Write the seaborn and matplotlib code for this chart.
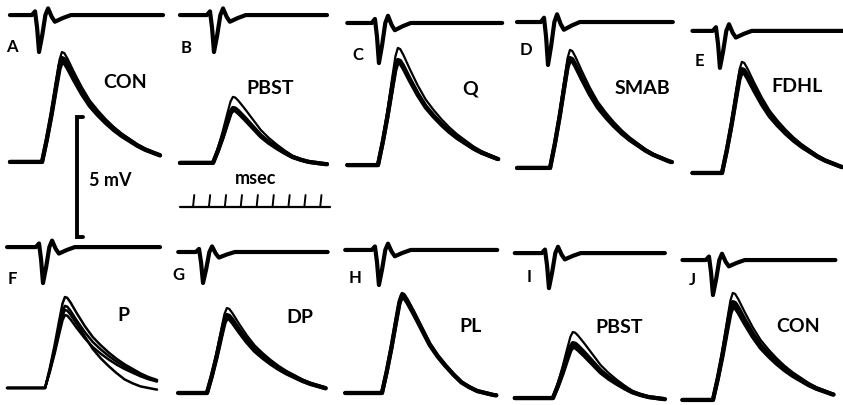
import numpy as np
import pandas as pd
import matplotlib
matplotlib.use("Agg")
import matplotlib.pyplot as plt
import seaborn as sns

# ---------------- data ----------------
panel_letters = ["A", "B", "C", "D", "E", "F", "G", "H", "I", "J"]
muscle_names = ["CON", "PBST", "Q", "SMAB", "FDHL", "P", "DP", "PL", "PBST", "CON"]

# normalised EPSP time course (ms after onset, fraction of peak)
shape_t_ms = [0.0, 0.3, 0.6, 0.9, 1.1, 1.25, 1.4, 1.6, 2.0, 2.5, 3.0, 3.5, 4.0, 4.5, 5.0, 5.5, 6.0, 6.5, 7.0, 7.5, 8.0]
shape_std = [0.0, 0.22, 0.47, 0.75, 0.93, 1.0, 0.99, 0.94, 0.82, 0.68, 0.56, 0.47, 0.39, 0.32, 0.26, 0.21, 0.16, 0.12, 0.09, 0.06, 0.04]
shape_fast = [0.0, 0.22, 0.47, 0.75, 0.93, 1.0, 0.99, 0.94, 0.82, 0.66, 0.50, 0.38, 0.28, 0.19, 0.11, 0.06, 0.02, 0.0, -0.02, -0.03, -0.04]

# normalised afferent volley (ms from negative peak, fraction of dip)
volley_t_ms = [-0.45, -0.25, -0.12, 0.0, 0.2, 0.4, 0.57, 0.8, 1.0, 1.5, 2.0]
volley_shape = [0.0, 0.1, -0.35, -1.0, -0.55, 0.0, 0.18, -0.05, -0.18, -0.08, 0.0]

epsp_onset_ms = [-0.06, 0.09, -0.14, 0.08, 0.29, 0.13, -0.29, 0.11, 0.26, -0.28]
epsp_baseline_mv = [1.69, 1.65, 1.56, 1.44, 1.23, 0.71, 0.50, 0.50, 0.29, 0.21]
sweep_peaks_mv = [
    [4.58, 4.33, 4.17],
    [2.75, 2.29, 2.21],
    [4.88, 4.38, 4.29],
    [4.92, 4.58, 4.50],
    [4.63, 4.33, 4.21],
    [3.79, 3.42, 3.25, 3.04],
    [3.54, 3.25, 3.13],
    [4.17, 4.08, 4.00],
    [2.75, 2.29, 2.13],
    [4.46, 4.08, 3.88],
]
sweep_shapes = [
    ["std", "std", "std"],
    ["fast", "fast", "fast"],
    ["std", "std", "std"],
    ["std", "std", "std"],
    ["std", "std", "std"],
    ["std", "std", "fast", "std"],
    ["std", "std", "std"],
    ["fast", "fast", "fast"],
    ["fast", "fast", "fast"],
    ["std", "std", "std"],
]
trace_start_ms = [-2.08, -1.99, -2.07, -2.0, -1.57, -2.26, -2.10, -2.20, -2.14, -2.20]
trace_end_ms = [7.36, 7.26, 7.42, 7.74, 7.86, 7.17, 7.17, 7.30, 7.30, 7.30]

volley_dip_ms = [-0.25, 0.15, -0.08, -0.05, 0.16, 0.0, -0.54, -0.08, 0.01, -0.28]
volley_base_mv = [7.81, 7.81, 7.48, 7.52, 7.15, 6.58, 6.375, 6.46, 6.33, 6.04]
volley_depth_mv = [1.54, 1.54, 1.67, 1.79, 1.54, 1.50, 1.29, 1.46, 1.46, 1.46]
volley_end_ms = [7.55, 7.26, 7.67, 7.80, 7.90, 7.36, 7.30, 7.36, 7.30, 7.42]

# label positions inside each panel (ms, mV)
letter_xy = [(-1.95, 6.48), (-1.61, 6.44), (-1.40, 6.15), (-1.43, 6.35), (-1.16, 5.90),
             (-1.95, 5.25), (-2.10, 5.40), (-1.60, 5.29), (-1.25, 5.33), (-1.60, 5.21)]
name_xy = [(5.16, 4.98), (3.67, 4.77), (5.65, 4.73), (5.86, 4.73), (5.00, 4.85),
           (5.03, 3.71), (5.56, 3.63), (5.71, 3.29), (4.42, 3.21), (5.07, 3.29)]

scale_mv = 5
time_ticks_ms = 9

# ---------------- figure ----------------
sns.set_theme(style="white")
plt.rcParams["font.family"] = ["Lato", "DejaVu Sans"]

fig, axes = plt.subplots(2, 5, figsize=(8.43, 4.05), dpi=100)
fig.subplots_adjust(left=0, right=1, top=1, bottom=0, wspace=0, hspace=0)
shapes = {"std": np.array(shape_std), "fast": np.array(shape_fast)}
st = np.array(shape_t_ms)

for i, ax in enumerate(axes.flat):
    ax.set_xlim(-43 / 15.9, (843 / 5 - 43) / 15.9)
    ax.set_ylim(0, 202.5 / 24)
    ax.axis("off")

    # volley
    vt = np.concatenate([[trace_start_ms[i]], volley_dip_ms[i] + np.array(volley_t_ms), [volley_end_ms[i]]])
    vv = np.concatenate([[0.0], np.array(volley_shape), [0.0]]) * volley_depth_mv[i] + volley_base_mv[i]
    dfv = pd.DataFrame({"t": vt, "v": vv})
    sns.lineplot(data=dfv, x="t", y="v", ax=ax, color="black", lw=3.0,
                 sort=False, estimator=None, legend=False, clip_on=False,
                 solid_capstyle="round", solid_joinstyle="round")

    # EPSP sweeps
    for k, (pk, shp) in enumerate(zip(sweep_peaks_mv[i], sweep_shapes[i])):
        t = epsp_onset_ms[i] + st
        v = shapes[shp] * pk
        keep = t < trace_end_ms[i]
        t_end = trace_end_ms[i]
        v_end = np.interp(t_end, t, v)
        tt = np.concatenate([[trace_start_ms[i]], t[keep], [t_end]])
        yy = np.concatenate([[0.0], v[keep], [v_end]]) + epsp_baseline_mv[i]
        df = pd.DataFrame({"t": tt, "v": yy})
        if i == 5:
            lw = 1.8
        else:
            lw = 1.6 if k == 0 else 3.0
        sns.lineplot(data=df, x="t", y="v", ax=ax, color="black", lw=lw,
                     sort=False, estimator=None, legend=False, clip_on=False,
                     solid_capstyle="round", solid_joinstyle="round")

    ax.text(*letter_xy[i], panel_letters[i], ha="center", va="center",
            fontsize=12, fontweight="bold", color="black")
    ax.text(*name_xy[i], muscle_names[i], ha="center", va="center",
            fontsize=14, fontweight="bold", color="black")

# voltage scale bar (panel A frame)
axA = axes[0, 0]
x_bar, y_top = 2.14, 3.56
axA.plot([x_bar + 0.35, x_bar, x_bar, x_bar + 0.35], [y_top, y_top, y_top - scale_mv, y_top - scale_mv],
         color="black", lw=2.8, clip_on=False, solid_joinstyle="miter")
axA.text(4.2, 0.9, f"{scale_mv} mV", ha="center", va="center", fontsize=13,
         fontweight="bold", color="black")

# time scale (panel B frame)
axB = axes[0, 1]
y_line = -0.19
axB.plot([-1.99, 7.45], [y_line, y_line], color="black", lw=1.6, clip_on=False)
for k in range(time_ticks_ms):
    x0 = -1.17 + k
    axB.plot([x0, x0 + 0.08], [y_line, y_line + 0.5], color="black", lw=1.4, clip_on=False)
axB.text(2.8, 0.98, "msec", ha="center", va="center", fontsize=13,
         fontweight="bold", color="black")

fig.savefig("out.png", dpi=100)
